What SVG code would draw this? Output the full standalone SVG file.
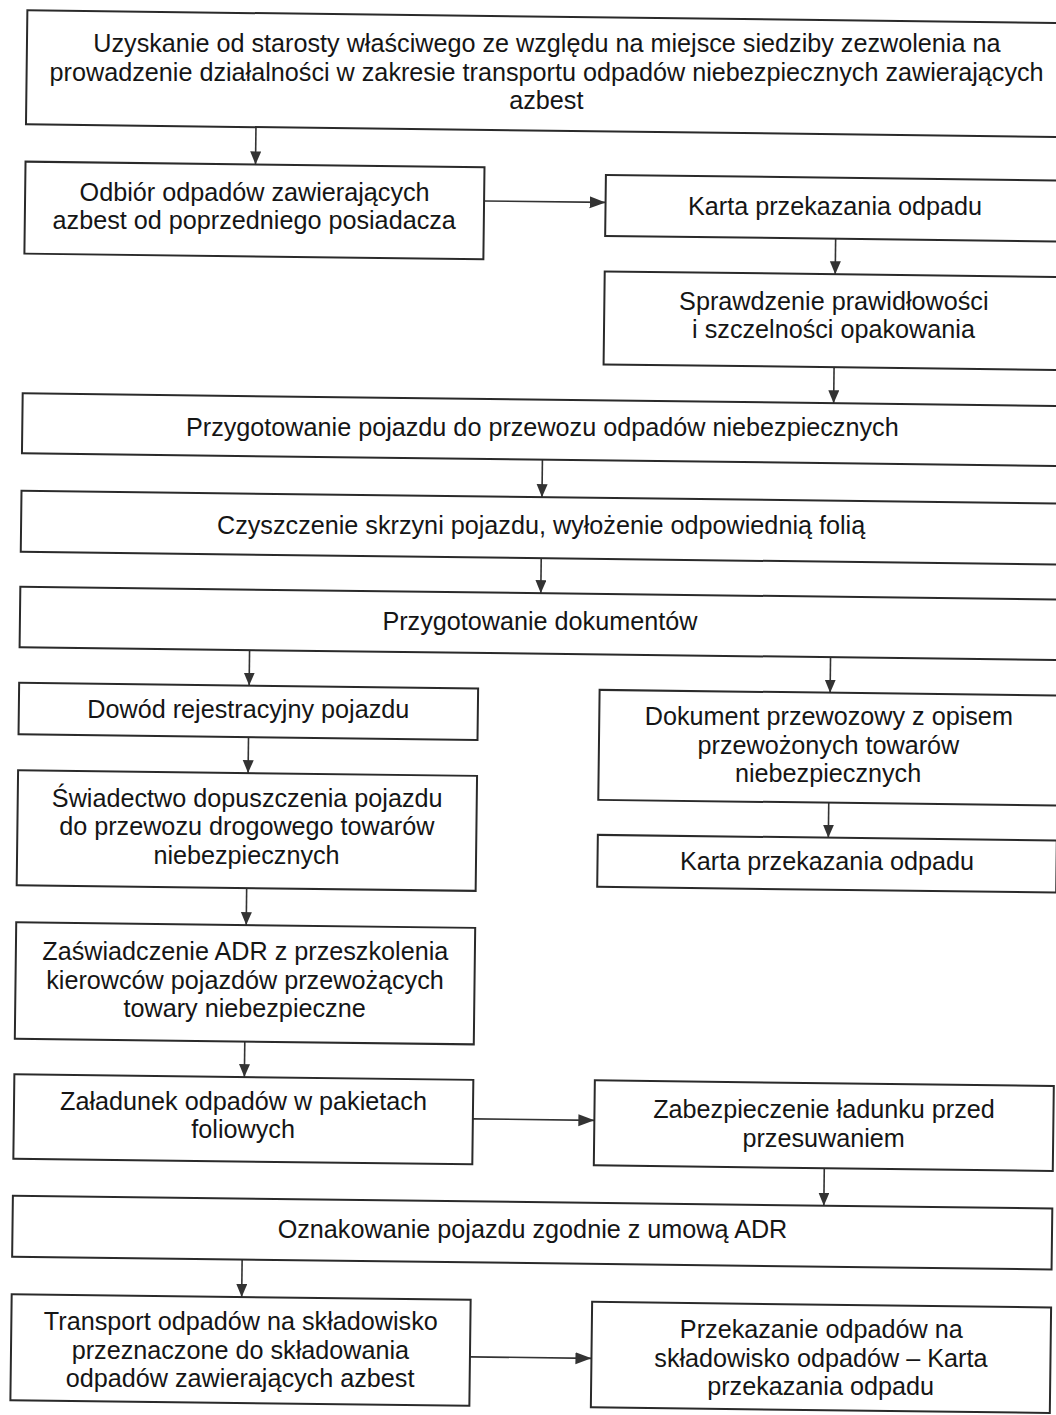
<svg xmlns="http://www.w3.org/2000/svg" width="1056" height="1415" viewBox="0 0 1056 1415">
<defs>
<style>
.box{fill:#fff;stroke:#2a2a2a;stroke-width:2}
.t{font-family:"Liberation Sans",Arial,sans-serif;font-size:25.2px;fill:#151515;text-anchor:middle}
.c{stroke:#333;stroke-width:1.6;fill:none}
.cv{marker-end:url(#av)}
.ch{marker-end:url(#ah)}
</style>
<marker id="av" markerUnits="userSpaceOnUse" markerWidth="14" markerHeight="12" refX="13" refY="5.5" orient="auto">
<path d="M0,0 L13,5.5 L0,11 Z" fill="#333"/>
</marker>
<marker id="ah" markerUnits="userSpaceOnUse" markerWidth="17" markerHeight="13" refX="16" refY="6" orient="auto">
<path d="M0,0 L16,6 L0,12 Z" fill="#333"/>
</marker>
</defs>
<rect x="0" y="0" width="1056" height="1415" fill="#fff"/>
<g id="connectors" transform="rotate(0.7)">
<line class="c cv" x1="257.5" y1="124" x2="257.5" y2="161.3"/>
<line class="c ch" x1="486.5" y1="195" x2="608" y2="195"/>
<line class="c cv" x1="838.5" y1="228.5" x2="838.5" y2="264"/>
<line class="c cv" x1="838.5" y1="357" x2="838.5" y2="393"/>
<line class="c cv" x1="548" y1="453" x2="548" y2="490.5"/>
<line class="c cv" x1="548" y1="551.5" x2="548" y2="586.5"/>
<line class="c cv" x1="257.5" y1="647" x2="257.5" y2="682.5"/>
<line class="c cv" x1="838.5" y1="647" x2="838.5" y2="682.5"/>
<line class="c cv" x1="257.5" y1="734" x2="257.5" y2="770"/>
<line class="c cv" x1="838.5" y1="792.5" x2="838.5" y2="827.5"/>
<line class="c cv" x1="257.5" y1="885" x2="257.5" y2="922"/>
<line class="c cv" x1="257.5" y1="1038.5" x2="257.5" y2="1074"/>
<line class="c ch" x1="486.5" y1="1113" x2="608" y2="1113"/>
<line class="c cv" x1="838.5" y1="1158" x2="838.5" y2="1195.5"/>
<line class="c cv" x1="257.5" y1="1256.5" x2="257.5" y2="1294"/>
<line class="c ch" x1="486.5" y1="1351" x2="608" y2="1351"/>
</g>
<g id="n1">
<rect class="box" transform="rotate(0.7)" x="27.5" y="10" width="1039.5" height="114"/>
<text class="t" x="546.9" y="52.2">Uzyskanie od starosty właściwego ze względu na miejsce siedziby zezwolenia na</text>
<text class="t" x="546.6" y="80.7">prowadzenie działalności w zakresie transportu odpadów niebezpiecznych zawierających</text>
<text class="t" x="546.3" y="109.2">azbest</text>
</g>
<g id="n2">
<rect class="box" transform="rotate(0.7)" x="27.5" y="161.3" width="459" height="92"/>
<text class="t" x="254.6" y="200.6">Odbiór odpadów zawierających</text>
<text class="t" x="254.2" y="229.1">azbest od poprzedniego posiadacza</text>
</g>
<g id="n3">
<rect class="box" transform="rotate(0.7)" x="608" y="167.5" width="459" height="61"/>
<text class="t" x="835" y="214.7">Karta przekazania odpadu</text>
</g>
<g id="n4">
<rect class="box" transform="rotate(0.7)" x="608" y="264" width="459" height="93"/>
<text class="t" x="833.8" y="309.5">Sprawdzenie prawidłowości</text>
<text class="t" x="833.5" y="338">i szczelności opakowania</text>
</g>
<g id="n5">
<rect class="box" transform="rotate(0.7)" x="27.5" y="393" width="1039.5" height="60"/>
<text class="t" x="542.3" y="436.2">Przygotowanie pojazdu do przewozu odpadów niebezpiecznych</text>
</g>
<g id="n6">
<rect class="box" transform="rotate(0.7)" x="27.5" y="490.5" width="1039.5" height="61"/>
<text class="t" x="541.1" y="534.2">Czyszczenie skrzyni pojazdu, wyłożenie odpowiednią folią</text>
</g>
<g id="n7">
<rect class="box" transform="rotate(0.7)" x="27.5" y="586.5" width="1039.5" height="60.5"/>
<text class="t" x="539.9" y="629.7">Przygotowanie dokumentów</text>
</g>
<g id="n8">
<rect class="box" transform="rotate(0.7)" x="27.5" y="682.5" width="459" height="51.5"/>
<text class="t" x="248.3" y="718.1">Dowód rejestracyjny pojazdu</text>
</g>
<g id="n9">
<rect class="box" transform="rotate(0.7)" x="608" y="682.5" width="459" height="110"/>
<text class="t" x="828.8" y="725.2">Dokument przewozowy z opisem</text>
<text class="t" x="828.4" y="753.7">przewożonych towarów</text>
<text class="t" x="828.1" y="782.2">niebezpiecznych</text>
</g>
<g id="n10">
<rect class="box" transform="rotate(0.7)" x="27.5" y="770" width="459" height="115"/>
<text class="t" x="247.2" y="806.6">Świadectwo dopuszczenia pojazdu</text>
<text class="t" x="246.8" y="835.1">do przewozu drogowego towarów</text>
<text class="t" x="246.5" y="863.6">niebezpiecznych</text>
</g>
<g id="n11">
<rect class="box" transform="rotate(0.7)" x="608" y="827.5" width="459" height="52"/>
<text class="t" x="827" y="870.2">Karta przekazania odpadu</text>
</g>
<g id="n12">
<rect class="box" transform="rotate(0.7)" x="27.5" y="922" width="459" height="116.5"/>
<text class="t" x="245.3" y="960.1">Zaświadczenie ADR z przeszkolenia</text>
<text class="t" x="245" y="988.6">kierowców pojazdów przewożących</text>
<text class="t" x="244.6" y="1017.1">towary niebezpieczne</text>
</g>
<g id="n13">
<rect class="box" transform="rotate(0.7)" x="27.5" y="1074" width="459" height="84.5"/>
<text class="t" x="243.5" y="1109.9">Załadunek odpadów w pakietach</text>
<text class="t" x="243.1" y="1138.4">foliowych</text>
</g>
<g id="n14">
<rect class="box" transform="rotate(0.7)" x="608" y="1073" width="459" height="85"/>
<text class="t" x="824" y="1118.2">Zabezpieczenie ładunku przed</text>
<text class="t" x="823.6" y="1146.7">przesuwaniem</text>
</g>
<g id="n15">
<rect class="box" transform="rotate(0.7)" x="27.5" y="1195.5" width="1039.5" height="61"/>
<text class="t" x="532.5" y="1237.7">Oznakowanie pojazdu zgodnie z umową ADR</text>
</g>
<g id="n16">
<rect class="box" transform="rotate(0.7)" x="27.5" y="1294" width="459" height="106"/>
<text class="t" x="240.8" y="1330.1">Transport odpadów na składowisko</text>
<text class="t" x="240.4" y="1358.6">przeznaczone do składowania</text>
<text class="t" x="240.1" y="1387.1">odpadów zawierających azbest</text>
</g>
<g id="n17">
<rect class="box" transform="rotate(0.7)" x="608" y="1294.5" width="459" height="105.5"/>
<text class="t" x="821.3" y="1338.2">Przekazanie odpadów na</text>
<text class="t" x="820.9" y="1366.7">składowisko odpadów – Karta</text>
<text class="t" x="820.6" y="1395.2">przekazania odpadu</text>
</g>
</svg>
